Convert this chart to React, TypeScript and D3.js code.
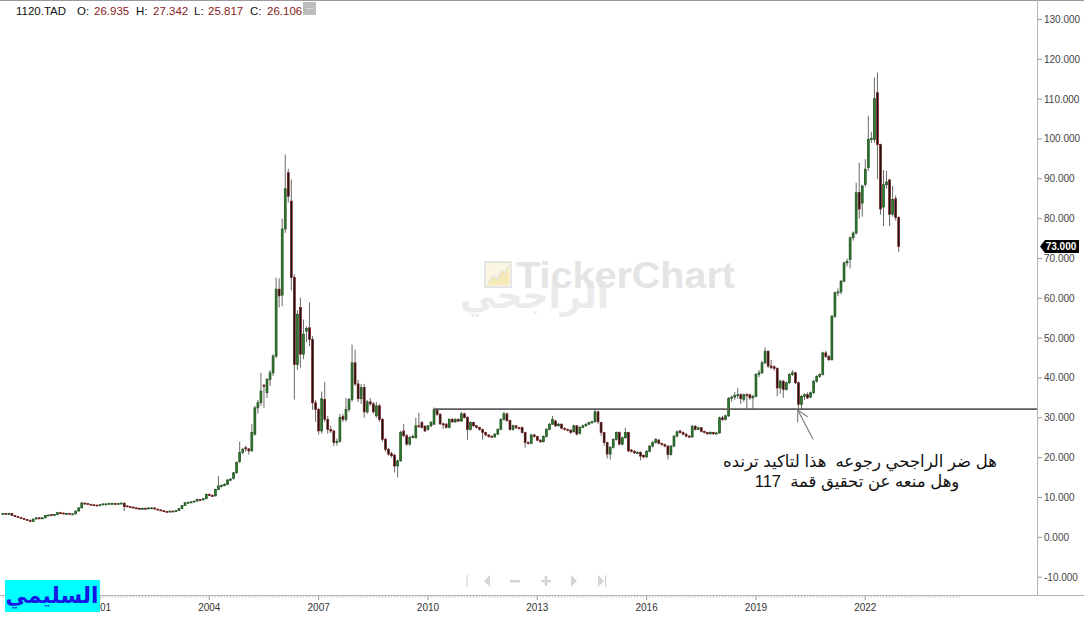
import React from 'react';
import * as d3 from 'd3';

type C = [number, number, number, number]; // open, high, low, close

const c1998: C[] = [[5.9,6.1,5.8,6.0],[6.0,6.1,5.8,5.9],[5.9,6.1,5.8,6.0],[6.0,6.1,5.4,5.5],[5.5,5.6,5.1,5.2],[5.2,5.3,4.9,5.0],[5.0,5.1,4.6,4.7],[4.7,4.8,4.4,4.5]];
const c1999: C[] = [[4.5,4.6,4.2,4.3],[4.3,4.4,3.9,4.0],[4.0,4.7,3.9,4.6],[4.6,5.0,4.5,4.9],[4.9,5.1,4.6,4.7],[4.7,5.0,4.6,4.9],[4.9,5.6,4.8,5.5],[5.5,5.7,5.4,5.6],[5.7,5.8,5.5,5.6],[5.6,5.8,5.5,5.7],[5.7,6.3,5.6,6.2],[6.2,6.4,6.0,6.1]];
const c2000: C[] = [[6.1,6.2,5.9,6.0],[6.0,6.1,5.9,6.0],[6.0,6.1,5.8,5.9],[5.9,6.0,5.8,5.9],[5.9,6.7,5.8,6.6],[6.6,7.5,6.5,7.4],[7.4,9.0,7.3,8.6],[8.6,8.8,8.3,8.5],[8.5,8.6,8.2,8.3],[8.3,8.4,8.0,8.2],[8.2,8.3,7.9,8.1],[8.1,8.2,7.9,8.0]];
const c2001: C[] = [[8.0,8.3,7.9,8.2],[8.2,8.5,8.1,8.4],[8.4,8.5,8.2,8.4],[8.4,8.6,8.3,8.5],[8.5,8.7,8.4,8.5],[8.5,8.6,8.3,8.4],[8.4,8.6,8.3,8.5],[8.5,8.7,8.4,8.6],[8.6,8.7,6.6,7.7],[7.9,8.0,7.6,7.7],[7.7,7.8,7.5,7.6],[7.6,7.7,7.3,7.4]];
const c2002: C[] = [[7.4,7.5,7.2,7.3],[7.3,7.4,7.1,7.2],[7.2,7.4,7.1,7.3],[7.3,7.4,7.1,7.2],[7.2,7.5,7.1,7.4],[7.4,7.6,7.3,7.4],[7.4,7.5,7.0,7.1],[7.1,7.2,6.8,6.9],[6.9,7.0,6.6,6.7],[6.7,6.8,6.4,6.5],[6.5,6.6,6.3,6.4],[6.4,6.7,6.3,6.6]];
const c2003: C[] = [[6.6,6.7,6.4,6.5],[6.5,6.8,6.4,6.7],[6.7,7.3,6.6,7.2],[7.2,8.1,7.1,8.0],[8.0,8.8,7.9,8.7],[8.7,9.0,8.5,8.8],[8.8,9.1,8.6,8.9],[8.9,9.3,8.8,9.1],[9.1,9.7,9.0,9.5],[9.5,9.6,9.2,9.4],[9.4,9.9,9.3,9.7],[9.7,11.0,9.6,10.8]];
const c2004: C[] = [[10.8,11.0,10.3,10.5],[10.5,10.8,10.2,10.4],[10.4,12.2,10.3,12.0],[12.0,15.4,11.8,12.9],[12.9,13.3,12.5,13.0],[13.0,13.6,12.8,13.3],[13.3,14.6,13.1,14.4],[14.4,14.9,14.1,14.6],[14.8,16.4,14.5,16.2],[16.2,19.1,16.0,18.8],[19.0,24.0,18.6,21.3],[21.3,22.5,20.8,22.1]];
const c2005: C[] = [[22.5,23.0,21.5,22.2],[22.2,22.4,20.8,21.7],[21.7,28.4,21.5,26.3],[25.9,33.0,25.5,32.5],[32.5,34.5,31.0,33.8],[33.8,41.3,33.0,36.7],[38.2,38.5,32.5,37.9],[36.3,40.0,35.0,39.6],[39.6,42.0,38.0,41.3],[41.3,46.0,40.5,45.5],[45.5,65.2,45.0,62.3],[62.3,65.0,57.7,60.6]];
const c2006: C[] = [[60.8,80.0,58.0,77.4],[77.4,96.1,76.4,87.5],[91.5,92.5,84.0,85.6],[84.4,89.8,62.0,65.2],[65.2,66.0,34.6,43.4],[43.4,57.0,42.0,56.0],[57.7,60.2,42.6,46.0],[46.0,54.7,44.7,51.0],[51.8,53.0,49.0,52.4],[52.6,59.0,48.0,49.7],[49.7,50.5,32.0,33.8],[33.8,34.5,29.0,32.1]];
const c2007: C[] = [[32.1,32.5,25.8,26.7],[26.7,36.6,26.0,34.8],[34.6,39.0,29.0,29.6],[29.6,30.5,26.0,27.1],[27.1,28.0,26.2,26.7],[26.7,27.0,22.9,23.8],[23.8,24.8,23.0,24.1],[24.1,31.0,23.8,30.1],[30.3,31.0,29.0,29.6],[29.6,35.0,29.0,32.1],[32.1,35.0,31.5,34.6],[34.6,48.4,34.0,43.8]];
const c2008: C[] = [[43.8,47.1,38.0,38.5],[38.5,39.5,34.0,34.8],[34.8,38.5,33.5,37.6],[37.6,38.5,30.0,31.5],[31.5,34.5,31.0,34.0],[34.0,35.0,33.0,33.5],[33.5,34.0,31.0,31.5],[30.5,34.0,30.0,33.0],[33.0,33.5,29.0,29.6],[29.6,30.0,24.0,24.6],[24.6,25.0,21.5,22.1],[22.1,22.5,20.5,20.9]];
const c2009: C[] = [[21.0,21.5,20.0,20.5],[20.6,21.0,16.3,17.9],[17.9,19.5,15.0,19.2],[19.2,26.8,19.0,26.3],[26.7,28.5,25.2,25.5],[25.5,26.0,23.0,23.4],[23.4,25.5,23.0,25.1],[25.1,25.8,24.8,25.3],[25.0,30.0,24.8,28.0],[28.0,31.3,27.5,27.9],[28.8,29.2,27.3,27.6],[27.9,28.2,26.4,26.7]];
const c2010: C[] = [[27.1,28.2,26.8,28.0],[28.0,29.2,27.6,28.8],[28.4,32.6,28.2,32.1],[32.1,32.4,30.5,30.9],[30.9,31.2,28.2,28.5],[28.5,28.8,27.2,28.2],[28.4,28.7,27.3,27.6],[27.6,29.9,27.4,29.6],[29.6,30.0,28.7,29.0],[29.0,29.9,28.7,29.6],[29.6,29.9,28.9,29.2],[29.2,31.5,29.0,31.0]];
const c2011: C[] = [[31.0,31.3,29.8,30.1],[30.1,30.4,24.5,27.1],[27.1,29.1,26.8,28.8],[28.8,29.0,27.7,28.0],[28.0,28.2,27.3,27.6],[27.6,27.8,26.8,27.1],[27.1,27.3,24.5,26.3],[26.3,26.5,25.4,25.7],[25.7,25.9,25.0,25.3],[25.4,25.6,24.9,25.2],[25.2,26.2,25.0,25.9],[25.9,27.4,25.7,27.1]];
const c2012: C[] = [[27.1,29.9,26.9,29.6],[29.6,31.5,29.3,31.0],[31.0,31.3,29.0,29.3],[29.3,29.5,26.8,27.1],[27.1,28.3,26.8,28.0],[28.0,28.2,27.2,27.5],[27.5,27.8,27.1,27.4],[27.6,27.8,26.0,26.3],[26.3,26.5,22.5,23.8],[23.8,24.1,23.3,23.6],[23.6,26.0,23.4,25.7],[25.7,26.0,25.0,25.3]];
const c2013: C[] = [[25.3,25.5,24.1,24.4],[24.4,24.6,23.7,24.0],[24.0,25.6,23.8,25.3],[25.3,27.4,25.1,27.1],[27.1,28.7,26.9,28.4],[28.4,30.5,28.2,29.6],[29.2,29.5,27.7,28.0],[28.0,28.7,27.8,28.4],[28.4,28.6,27.1,27.4],[27.4,27.6,26.8,27.1],[27.1,27.3,26.6,26.9],[26.9,27.1,26.0,26.3]];
const c2014: C[] = [[26.5,28.3,26.3,28.0],[28.0,28.2,25.6,25.9],[26.1,27.9,25.9,27.6],[27.6,28.3,27.4,28.0],[28.0,28.6,27.8,28.4],[28.4,29.0,28.2,28.8],[28.8,29.3,28.5,29.0],[29.0,32.3,28.8,31.5],[31.5,31.8,28.5,29.0],[28.8,29.0,25.5,26.3],[26.3,26.5,23.0,23.8],[23.8,24.0,19.8,20.9]];
const c2015: C[] = [[20.9,22.9,19.5,22.6],[22.6,24.9,22.3,24.6],[24.6,26.6,24.3,26.3],[26.3,26.6,23.1,23.4],[23.4,25.3,23.1,25.0],[25.0,27.5,24.8,26.3],[26.3,26.5,21.4,21.7],[21.9,22.2,21.3,21.6],[21.6,21.9,20.9,21.2],[21.2,21.6,20.9,21.3],[21.3,21.6,19.3,20.4],[20.6,20.8,19.8,20.2]];
const c2016: C[] = [[20.2,21.9,19.9,21.6],[21.6,23.2,21.3,22.9],[22.9,24.1,22.6,23.8],[23.8,24.9,23.5,24.6],[24.4,24.7,23.3,23.6],[23.6,23.8,23.0,23.3],[23.3,23.5,22.6,22.9],[22.9,23.2,19.5,20.8],[20.8,23.2,20.5,22.9],[22.9,25.7,22.6,25.4],[25.4,26.8,25.1,26.5],[26.7,27.0,26.0,26.3]];
const c2017: C[] = [[26.3,26.6,25.6,25.9],[25.9,26.2,25.1,25.4],[25.4,25.7,24.9,25.2],[25.2,28.2,25.0,27.9],[27.9,28.2,26.8,27.1],[27.1,27.8,26.9,27.5],[27.5,27.7,26.3,26.6],[26.6,26.8,26.0,26.3],[26.3,26.5,25.7,26.0],[26.0,26.6,25.8,26.3],[26.3,26.5,25.7,26.0],[26.0,26.5,25.8,26.2]];
const c2018: C[] = [[26.2,30.3,26.0,30.0],[30.0,30.5,29.2,29.6],[29.6,30.8,29.3,30.5],[30.5,35.2,30.2,34.9],[34.9,35.6,34.0,35.2],[35.2,36.5,34.5,35.6],[35.6,37.5,34.8,35.8],[35.8,36.2,33.5,34.8],[34.6,36.1,34.0,35.8],[35.8,36.2,32.0,35.7],[35.8,36.0,34.5,35.0],[35.0,35.8,32.0,35.4]];
const c2019: C[] = [[35.4,41.2,35.2,40.9],[40.9,42.0,40.2,41.3],[41.3,44.3,41.0,43.8],[43.8,47.7,43.5,46.7],[46.7,47.0,42.5,43.0],[43.0,44.5,42.2,42.6],[42.8,43.2,41.8,42.4],[42.4,42.7,35.4,37.5],[37.5,39.6,36.0,39.2],[39.2,39.5,35.0,37.1],[37.1,39.1,36.8,38.8],[38.8,41.2,38.5,40.9]];
const c2020: C[] = [[40.9,42.0,40.5,41.3],[41.3,41.6,38.5,38.8],[38.8,39.1,32.1,33.4],[33.4,35.7,32.0,35.4],[35.4,36.2,34.5,35.8],[35.8,36.4,34.7,35.0],[35.2,36.6,34.9,36.3],[36.3,39.5,36.0,39.2],[39.2,40.7,38.8,40.4],[40.4,41.2,40.0,40.9],[40.9,46.6,40.6,46.3],[46.3,46.8,45.0,45.4]];
const c2021: C[] = [[45.4,45.8,44.2,44.6],[44.6,55.8,44.3,55.5],[55.5,61.7,55.0,61.4],[61.4,62.5,60.5,61.6],[61.6,64.6,61.0,64.3],[64.3,69.2,64.0,68.9],[68.9,70.0,68.0,69.3],[69.7,75.5,67.5,75.2],[75.2,76.8,74.5,76.4],[76.4,89.0,76.0,86.5],[86.6,94.0,80.0,82.4],[83.9,88.5,80.5,88.2]];
const c2022: C[] = [[88.6,94.9,88.0,92.4],[92.8,105.8,92.0,99.9],[99.9,101.8,99.0,100.1],[99.9,115.4,99.0,110.1],[111.6,116.7,89.9,98.6],[98.6,98.8,81.0,82.4],[82.9,92.2,78.1,88.5],[88.5,92.0,87.5,89.2],[89.7,90.0,78.1,81.1],[81.1,88.2,80.5,84.8],[85.0,85.8,79.5,80.3],[80.3,80.6,71.6,73.0]];

const yearBlocks: C[][] = [c1998, c1999, c2000, c2001, c2002, c2003, c2004, c2005, c2006, c2007, c2008, c2009, c2010, c2011, c2012, c2013, c2014, c2015, c2016, c2017, c2018, c2019, c2020, c2021, c2022];
const firstYear = 1998;
const firstMonth = 4; // May

const yTicks = d3.range(-10, 131, 10);
const yearLabels = [2001, 2004, 2007, 2010, 2013, 2016, 2019, 2022];
const lastPrice = 73.0;
const supportLevel = 32.2;
const supportStartIdx = 142;
const arrowTip = { i: 261.8, v: 31.9 };
const arrowTail = { i: 266.8, v: 24.6 };
const headerSymbol = '1120.TAD';
const headerFields = [['O:', '26.935'], ['H:', '27.342'], ['L:', '25.817'], ['C:', '26.106']];
const noteLines = ['هل ضر الراجحي رجوعه  هذا لتاكيد ترنده', 'وهل منعه عن تحقيق قمة  117'];
const authorName = 'السليمي';
const watermarkLatin = 'TickerChart';
const watermarkArabic = 'الراجحي';

const W = 1084, H = 617;
const plotRight = 1037, axisBottom = 595;

export default function App() {
  const candles = yearBlocks.flat();
  const n = candles.length;
  const x = d3.scaleLinear().domain([0, n - 1]).range([2.8, 898.7]);
  const y = d3.scaleLinear().domain([-10, 130]).range([577.2, 19.4]);
  const monthIdx = (yr: number) => (yr - firstYear) * 12 - firstMonth;
  const bw = 1.9;
  const bullFill = '#2e7a2e', bullStroke = '#1d4f1d', bearFill = '#141414', bearStroke = '#7d1d1d';

  const tip = [x(arrowTip.i), y(arrowTip.v)];
  const tail = [x(arrowTail.i), y(arrowTail.v)];
  const ang = Math.atan2(tail[1] - tip[1], tail[0] - tip[0]);
  const headLen = 12, spread = (29 * Math.PI) / 180;
  const h1 = [tip[0] + headLen * Math.cos(ang - spread), tip[1] + headLen * Math.sin(ang - spread)];
  const h2 = [tip[0] + headLen * Math.cos(ang + spread), tip[1] + headLen * Math.sin(ang + spread)];

  const minorTicks = d3.range(0, 316);
  const font = "'Liberation Sans', Arial, sans-serif";
  const navY = 581;

  return (
    <svg width={W} height={H} style={{ position: 'absolute', left: 0, top: 0, background: '#fff' }} fontFamily={font}>
      <rect x={0} y={0} width={W} height={H} fill="#fff" />
      <line x1={0} x2={W} y1={0.5} y2={0.5} stroke="#9a9a9a" />

      {/* watermark */}
      <g>
        <rect x={485} y={262} width={26} height={25} fill="#fbf6e2" stroke="#dedede" strokeWidth={1.5} />
        <path d="M488,283 L493,276 L497,279 L502,270 L505,273 L509,265 L509,285 L488,285 Z" fill="#f6e9b8" />
        <path d="M488,283 L493,276 L497,279 L502,270 L505,273 L509,265" fill="none" stroke="#e2e2e2" strokeWidth={1.2} />
        <text x={609} y={308} fontSize={36} fontWeight="bold" fill="#ebebeb" textAnchor="end" fontFamily="'DejaVu Sans', sans-serif">{watermarkArabic}</text>
        <text x={516} y={288} fontSize={37} fontWeight="bold" fill="#e4e4e4" textLength={219} lengthAdjust="spacingAndGlyphs">{watermarkLatin}</text>
      </g>

      {/* candles */}
      <g>
        {candles.map((d, i) => {
          const [o, h, l, c] = d;
          const cx = x(i);
          const up = c >= o;
          const top = y(Math.max(o, c));
          const bh = Math.max(1, Math.abs(y(o) - y(c)));
          return (
            <g key={i}>
              <line x1={cx} x2={cx} y1={y(h)} y2={y(l)} stroke="#6a6a6a" strokeWidth={1} />
              <rect x={cx - bw / 2} y={top} width={bw} height={bh}
                fill={up ? bullFill : bearFill} stroke={up ? bullStroke : bearStroke} strokeWidth={0.7} />
            </g>
          );
        })}
      </g>

      {/* support line */}
      <line x1={x(supportStartIdx)} x2={plotRight} y1={y(supportLevel)} y2={y(supportLevel)} stroke="#5e5e5e" strokeWidth={1.8} />

      {/* arrow */}
      <g stroke="#777" strokeWidth={1.1} fill="none">
        <line x1={tail[0]} y1={tail[1]} x2={tip[0]} y2={tip[1]} />
        <line x1={tip[0]} y1={tip[1]} x2={h1[0]} y2={h1[1]} />
        <line x1={tip[0]} y1={tip[1]} x2={h2[0]} y2={h2[1]} />
      </g>

      {/* annotation */}
      <g fontSize={16.5} fill="#111" textAnchor="middle" fontFamily="'Liberation Sans', 'DejaVu Sans', sans-serif" style={{ whiteSpace: 'pre' }}>
        <text x={860} y={467} direction="rtl" xmlSpace="preserve">{noteLines[0]}</text>
        <text x={857} y={487} direction="rtl" xmlSpace="preserve">{noteLines[1]}</text>
      </g>

      {/* right axis */}
      <line x1={plotRight + 0.5} x2={plotRight + 0.5} y1={0} y2={axisBottom} stroke="#b5b5b5" />
      {yTicks.map((t) => (
        <g key={t}>
          <line x1={plotRight + 1} x2={plotRight + 5} y1={y(t)} y2={y(t)} stroke="#999" />
          <text x={1044} y={y(t) + 3.5} fontSize={10} fill="#444">{t.toFixed(3)}</text>
        </g>
      ))}
      {/* last price tag */}
      <g>
        <path d={`M${plotRight + 3},${y(lastPrice)} L${plotRight + 8},${y(lastPrice) - 6.5} L${1079},${y(lastPrice) - 6.5} L${1079},${y(lastPrice) + 6.5} L${plotRight + 8},${y(lastPrice) + 6.5} Z`} fill="#000" />
        <text x={1061} y={y(lastPrice) + 3.6} fontSize={10} fontWeight="bold" fill="#fff" textAnchor="middle">{lastPrice.toFixed(3)}</text>
      </g>

      {/* bottom axis */}
      <line x1={0} x2={W} y1={axisBottom + 0.5} y2={axisBottom + 0.5} stroke="#b5b5b5" />
      {minorTicks.map((i) => (
        <line key={i} x1={x(i)} x2={x(i)} y1={axisBottom + 1} y2={axisBottom + 3} stroke="#d0d0d0" />
      ))}
      {yearLabels.map((yr) => (
        <g key={yr}>
          <line x1={x(monthIdx(yr))} x2={x(monthIdx(yr))} y1={axisBottom + 1} y2={axisBottom + 5} stroke="#999" />
          <text x={x(monthIdx(yr))} y={611} fontSize={10} fill="#333" textAnchor="middle">{yr}</text>
        </g>
      ))}

      {/* navigation icons */}
      <g fill="#d4d4d4" stroke="none">
        <rect x={466.5} y={navY - 6} width={1.2} height={12} />
        <path d={`M${484},${navY} L${490},${navY - 6} L${490},${navY + 6} Z`} />
        <rect x={510} y={navY - 1} width={10} height={2.4} />
        <rect x={541} y={navY - 1} width={10} height={2.4} />
        <rect x={544.8} y={navY - 5} width={2.4} height={10} />
        <path d={`M${577},${navY} L${571},${navY - 6} L${571},${navY + 6} Z`} />
        <path d={`M${604},${navY} L${598},${navY - 6} L${598},${navY + 6} Z`} />
        <rect x={605} y={navY - 6} width={1.2} height={12} />
      </g>

      {/* header */}
      <g fontSize={11.5}>
        <text x={16} y={15} fill="#111">{headerSymbol}</text>
        {headerFields.map(([k, v], j) => {
          const starts = [77, 136, 194, 250];
          return (
            <g key={k}>
              <text x={starts[j]} y={15} fill="#111">{k}</text>
              <text x={starts[j] + (k === 'L:' ? 14 : 17)} y={15} fill="#8b1a1a">{v}</text>
            </g>
          );
        })}
        <rect x={303} y={2} width={13} height={13} fill="#bdbdbd" />
        <text x={309.5} y={9} fontSize={9} fill="#fff" textAnchor="middle">...</text>
      </g>

      {/* author box */}
      <rect x={5} y={580} width={95} height={32} fill="#00ffff" />
      <text x={52} y={603} fontSize={22} fontWeight="bold" fill="#1616e6" textAnchor="middle" fontFamily="'DejaVu Sans', sans-serif">{authorName}</text>
    </svg>
  );
}
